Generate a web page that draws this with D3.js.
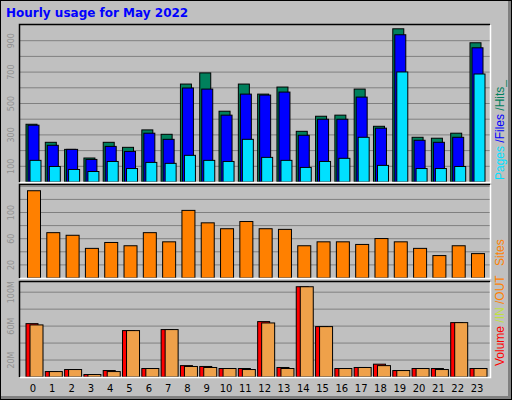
<!DOCTYPE html>
<html><head><meta charset="utf-8">
<script src="https://cdn.jsdelivr.net/npm/d3@7"></script>
<style>body{margin:0;background:#fff}svg{display:block;font-family:"DejaVu Sans",sans-serif}</style>
</head><body><div id="chart"></div>
<script>
// hourly usage data
const hours = d3.range(24);
const hits  = [371,256,211,156,256,224,335,307,627,698,454,627,563,608,326,422,429,595,358,979,288,282,314,890];
const files = [365,237,211,147,230,198,314,275,602,595,429,563,557,576,301,403,403,544,346,941,269,256,288,858];
const pages = [141,102,83,70,134,89,128,122,173,141,134,275,160,141,96,134,154,288,109,704,89,89,102,691];
const sites = [134,70,66,46,55,50,70,56,104,85,76,87,76,75,50,56,56,52,61,56,46,35,50,38];
const volIn  = [63.5,7,9.4,3.5,8.2,55.3,10.6,56.5,14,13,10.6,10.6,65.9,11.8,107,60,10.6,11.8,15.7,8.2,10.6,10.6,64.7,10.6];
const volOut = [62,7,9.4,3.5,7,55.3,10.6,56.5,13,11.8,10.6,9.4,64.3,10.6,107,60,10.6,11.8,14,8.2,10.6,9.4,64.7,10.6];

const W = 512, H = 400, L = 20, R = 490;
const svg = d3.select("#chart").append("svg").attr("width", W).attr("height", H);

// frame
svg.append("rect").attr("width", W).attr("height", H).attr("fill", "#c0c0c0");
svg.append("path").attr("d", `M0.5,${H-0.5}V0.5H${W-0.5}`).attr("stroke", "#fff").attr("fill", "none");
svg.append("path").attr("d", `M${W-2},1V${H-2}H1`).attr("stroke", "#808080").attr("stroke-width", 4).attr("fill", "none");
svg.append("rect").attr("x", 0.5).attr("y", 0.5).attr("width", W - 1).attr("height", H - 1)
  .attr("fill", "none").attr("stroke", "#000");

svg.append("text").attr("x", 6).attr("y", 17).attr("fill", "#0000ff")
  .attr("font-size", 12).attr("font-weight", "bold").text("Hourly usage for May 2022");

const x = d3.scaleLinear().domain([0, 23]).range([33, 477]);

function panel(top, bottom, max, step, labelVals, fmt) {
  const y = d3.scaleLinear().domain([0, max]).range([bottom, top]);
  svg.append("rect").attr("x", L).attr("y", top).attr("width", R - L).attr("height", bottom - top)
    .attr("fill", "#c0c0c0");
  const g = svg.append("g");
  g.selectAll("line").data(d3.range(step, max, step)).join("line")
    .attr("x1", L).attr("x2", R).attr("y1", d => y(d)).attr("y2", d => y(d))
    .attr("stroke", "#808080");
  g.selectAll("text").data(labelVals).join("text")
    .attr("transform", d => `translate(14,${y(d)}) rotate(-90)`)
    .attr("text-anchor", "middle").attr("font-size", 8).attr("fill", "#909090")
    .text(fmt);
  return y;
}
function border(top, bottom) {
  svg.append("path").attr("d", `M${L - 0.5},${bottom}V${top - 0.5}H${R}`).attr("stroke", "#000").attr("fill", "none").attr("stroke-width", 1.5);
  svg.append("path").attr("d", `M${R + 0.5},${top}V${bottom + 0.5}H${L}`).attr("stroke", "#fff").attr("fill", "none").attr("stroke-width", 1.5);
}
function bars(y, vals, off, w, color) {
  svg.append("g").selectAll("rect").data(vals).join("rect")
    .attr("x", (d, i) => x(i) + off + 0.5).attr("y", d => y(d) + 0.5)
    .attr("width", w).attr("height", d => y(0) - y(d) - 0.5)
    .attr("fill", color).attr("stroke", "#000");
}

// hits / files / pages
const y1 = panel(25, 182, 1000, 100, [100, 300, 500, 700, 900], d => d);
bars(y1, hits, -7.5, 11, "#00805c");
bars(y1, files, -5.5, 11, "#0000ff");
bars(y1, pages, -3.5, 11, "#00e0ff");
border(25, 182);

// sites
const y2 = panel(185, 278, 142, 20, [20, 60, 100], d => d);
bars(y2, sites, -6, 13, "#ff8000");
border(185, 278);

// volume
const y3 = panel(282, 377, 112, 20, [20, 60, 100], d => d + "M");
bars(y3, volIn, -7.5, 12, "#ff0000");
bars(y3, volOut, -3.5, 13, "#efa14a");
border(282, 377);

svg.append("g").selectAll("text").data(hours).join("text")
  .attr("x", d => x(d)).attr("y", 392).attr("text-anchor", "middle")
  .attr("font-size", 10).attr("fill", "#000").text(d => d);

// side legends, reading bottom to top
function legend(bx, by, parts) {
  const t = svg.append("text").attr("transform", `translate(${bx},${by}) rotate(-90)`)
    .attr("font-size", 12).attr("font-family", "Liberation Sans, Arial, sans-serif");
  parts.forEach(([s, c]) => t.append("tspan").attr("fill", c).text(s));
}
legend(504, 180, [["Pages ", "#00e0ff"], ["/Files ", "#0000ff"], ["/Hits_", "#00805c"]]);
legend(504, 266, [["Sites", "#ff8000"]]);
legend(504, 366, [["Volume ", "#ff0000"], ["/IN ", "#c0e040"], ["/OUT", "#ff8000"]]);
</script></body></html>
